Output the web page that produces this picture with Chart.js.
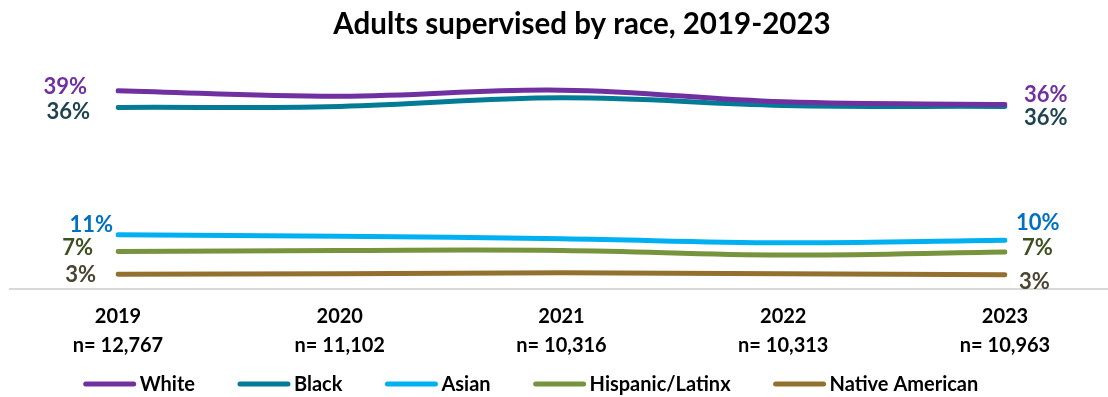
<!DOCTYPE html>
<html>
<head>
<meta charset="utf-8">
<script src="https://cdn.jsdelivr.net/npm/chart.js@4/dist/chart.umd.min.js"></script>
<style>
  html, body { margin: 0; padding: 0; background: #fff; }
  #wrap { width: 1108px; height: 397px; }
</style>
</head>
<body>
<div id="wrap"><canvas id="raceChart"></canvas></div>
<script>
const years = ['2019', '2020', '2021', '2022', '2023'];
const sampleSizes = ['n= 12,767', 'n= 11,102', 'n= 10,316', 'n= 10,313', 'n= 10,963'];

const white = [39.1, 38.0, 39.2, 36.9, 36.4];
const black = [35.8, 36.0, 37.7, 36.2, 36.0];
const asian = [10.7, 10.4, 9.9, 9.1, 9.6];
const hispanic = [7.4, 7.6, 7.6, 6.7, 7.3];
const nativeAmerican = [2.9, 3.0, 3.2, 3.0, 2.8];

const chartTitle = 'Adults supervised by race, 2019-2023';

const FONT = 'Lato, "Open Sans", sans-serif';

// colour of line, colour of its end labels, and where each end label sits
const seriesStyle = [
  { label: 'White', data: white, line: '#7030a0', text: '#7030a0', left: [-31, -4], right: [19, -9] },
  { label: 'Black', data: black, line: '#037b96', text: '#1f4350', left: [-28, 4], right: [19, 11] },
  { label: 'Asian', data: asian, line: '#00b0f0', text: '#0070c0', left: [-5, -10], right: [11, -17] },
  { label: 'Hispanic/Latinx', data: hispanic, line: '#77933c', text: '#3d5020', left: [-25, -4], right: [17, -4] },
  { label: 'Native American', data: nativeAmerican, line: '#94702e', text: '#4a4530', left: [-22, 1], right: [14, 7] },
];

// light baseline at 0%
const baseline = {
  id: 'baseline',
  beforeDatasetsDraw(chart) {
    const { ctx } = chart;
    const y = chart.scales.y.getPixelForValue(0);
    ctx.save();
    ctx.strokeStyle = '#d9d9d9';
    ctx.lineWidth = 2;
    ctx.beginPath();
    ctx.moveTo(9, y);
    ctx.lineTo(chart.width, y);
    ctx.stroke();
    ctx.restore();
  }
};

// heading, set a little right of the canvas centre
const heading = {
  id: 'heading',
  afterDraw(chart) {
    const { ctx } = chart;
    ctx.save();
    ctx.font = 'bold 29.5px ' + FONT;
    ctx.fillStyle = '#000';
    ctx.textAlign = 'center';
    ctx.textBaseline = 'middle';
    ctx.fillText(chartTitle, 582, 24);
    ctx.restore();
  }
};

// percentage labels at the first and last point of every line
const endLabels = {
  id: 'endLabels',
  afterDatasetsDraw(chart) {
    const { ctx } = chart;
    ctx.save();
    ctx.font = 'bold 22px ' + FONT;
    ctx.textBaseline = 'middle';
    chart.data.datasets.forEach((ds, i) => {
      const s = seriesStyle[i];
      const pts = chart.getDatasetMeta(i).data;
      const first = pts[0], last = pts[pts.length - 1];
      ctx.fillStyle = s.text;
      ctx.textAlign = 'right';
      ctx.fillText(Math.round(ds.data[0]) + '%', first.x + s.left[0], first.y + s.left[1]);
      ctx.textAlign = 'left';
      ctx.fillText(Math.round(ds.data[ds.data.length - 1]) + '%', last.x + s.right[0], last.y + s.right[1]);
    });
    ctx.restore();
  }
};

// legend row with line swatches
const lineLegend = {
  id: 'lineLegend',
  afterDraw(chart) {
    const { ctx } = chart;
    const swatch = 52, gap = 4, spacing = 43, y = 385;
    ctx.save();
    ctx.font = 'bold 20px ' + FONT;
    const widths = chart.data.datasets.map(ds => swatch + gap + ctx.measureText(ds.label).width);
    const total = widths.reduce((a, b) => a + b, 0) + spacing * (widths.length - 1);
    let x = 531 - total / 2;
    chart.data.datasets.forEach((ds, i) => {
      ctx.strokeStyle = ds.borderColor;
      ctx.lineWidth = 5;
      ctx.lineCap = 'round';
      ctx.beginPath();
      ctx.moveTo(x + 2, y - 1);
      ctx.lineTo(x + swatch - 2, y - 1);
      ctx.stroke();
      ctx.fillStyle = '#000';
      ctx.textAlign = 'left';
      ctx.textBaseline = 'middle';
      ctx.fillText(ds.label, x + swatch + gap, y);
      x += widths[i] + spacing;
    });
    ctx.restore();
  }
};

new Chart(document.getElementById('raceChart'), {
  type: 'line',
  data: {
    labels: years.map((y, i) => [y, sampleSizes[i]]),
    datasets: seriesStyle.map(s => ({
      label: s.label,
      data: s.data,
      borderColor: s.line,
      backgroundColor: s.line,
      borderWidth: 5,
      borderCapStyle: 'round',
      pointRadius: 0,
      tension: 0.4,
      fill: false,
    })),
  },
  options: {
    responsive: true,
    maintainAspectRatio: false,
    animation: false,
    layout: { padding: { left: 118, right: 103, top: 76, bottom: 24 } },
    plugins: {
      legend: { display: false },
      tooltip: { enabled: false },
      title: { display: false },
    },
    scales: {
      x: {
        offset: false,
        grid: { display: false, drawTicks: false },
        border: { display: false },
        ticks: {
          color: '#000',
          padding: 13,
          maxRotation: 0,
          autoSkip: false,
          font: { family: FONT, size: 20, weight: 'bold', lineHeight: 1.45 },
        },
      },
      y: {
        display: false,
        min: 0,
        max: 42,
      },
    },
  },
  plugins: [baseline, heading, endLabels, lineLegend],
});
</script>
</body>
</html>
